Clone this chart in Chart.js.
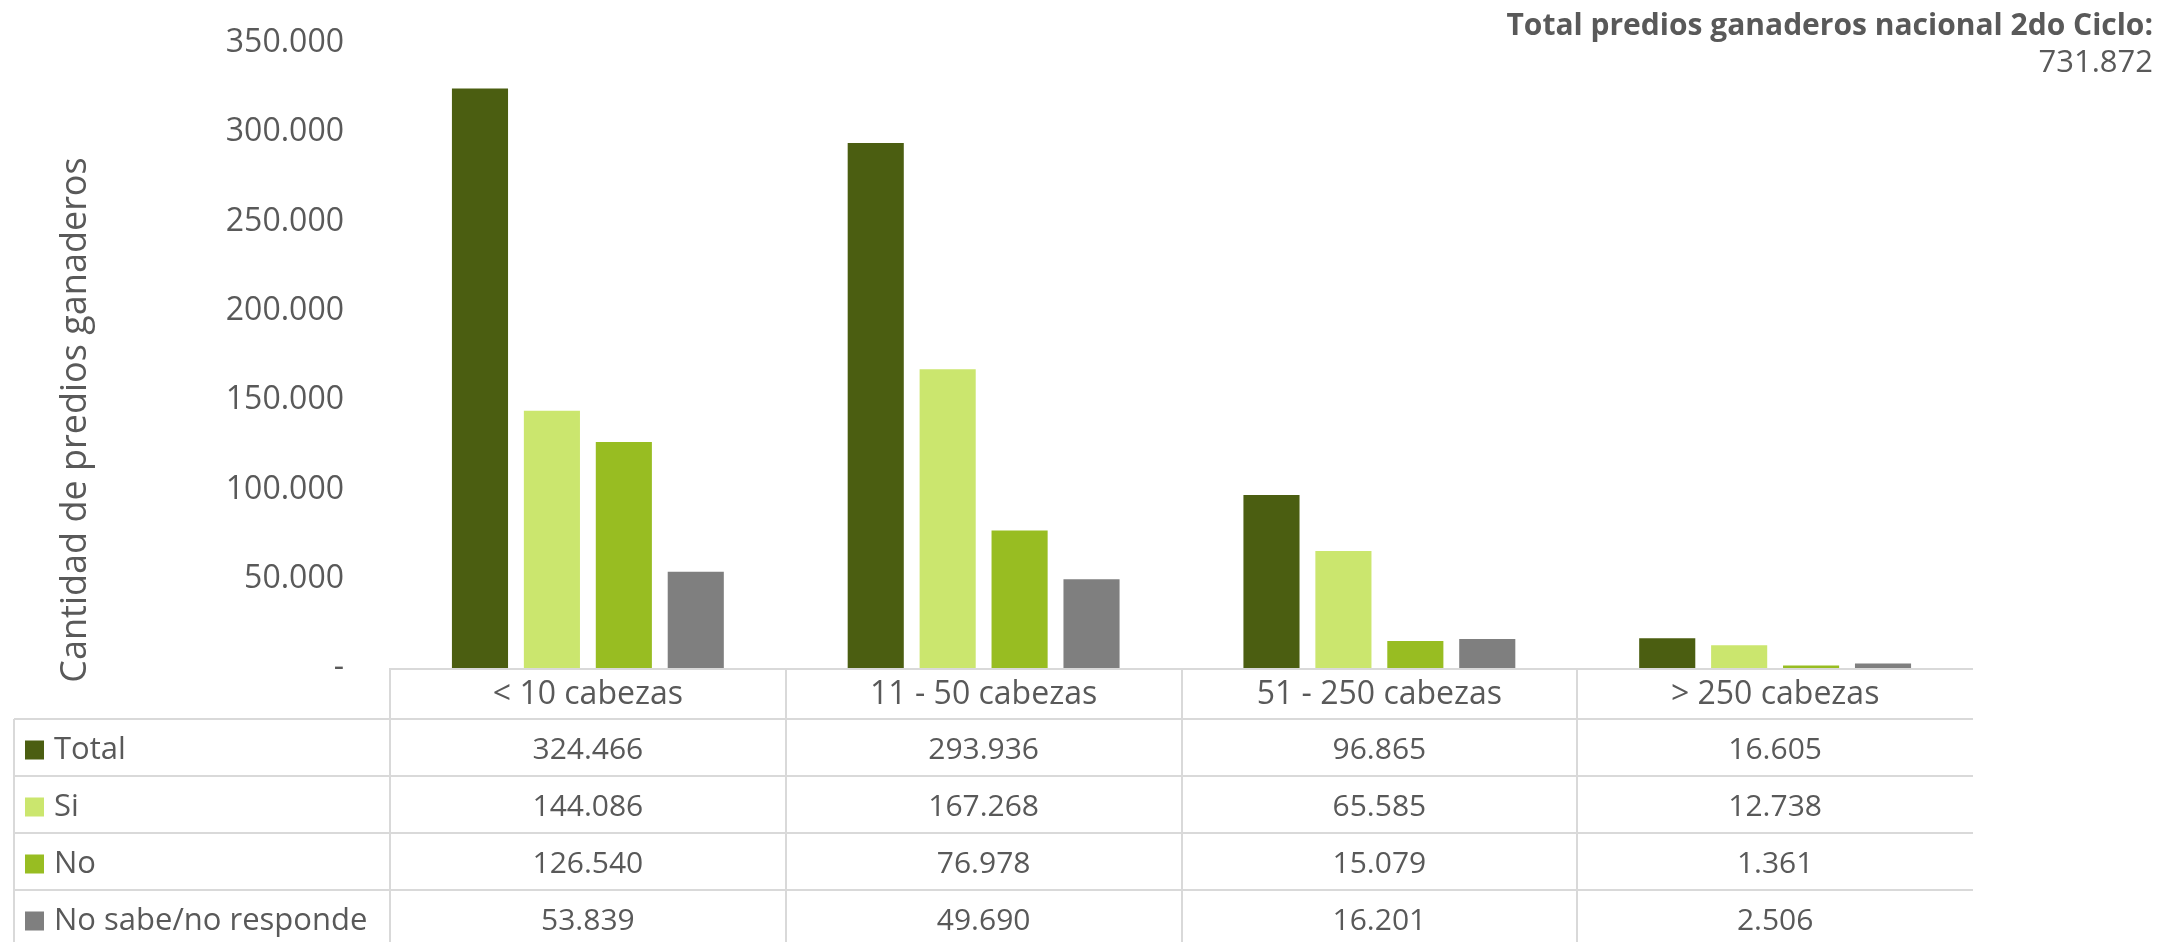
<!DOCTYPE html>
<html>
<head>
<meta charset="utf-8">
<script src="https://cdn.jsdelivr.net/npm/chart.js@4.4.1/dist/chart.umd.min.js"></script>
<style>
  html, body { margin: 0; padding: 0; background: #ffffff; }
  #wrap { position: relative; width: 2160px; height: 942px; }
</style>
</head>
<body>
<div id="wrap"><canvas id="c" width="2160" height="942"></canvas></div>
<script>
const categories = ['< 10 cabezas', '11 - 50 cabezas', '51 - 250 cabezas', '> 250 cabezas'];
const seriesNames = ['Total', 'Si', 'No', 'No sabe/no responde'];
const totalValues = [324466, 293936, 96865, 16605];
const siValues = [144086, 167268, 65585, 12738];
const noValues = [126540, 76978, 15079, 1361];
const nsnrValues = [53839, 49690, 16201, 2506];
const seriesColors = ['#4B5E11', '#CBE66E', '#98BD22', '#7F7F7F'];
const yTickValues = [0, 50000, 100000, 150000, 200000, 250000, 300000, 350000];
const yAxisTitle = 'Cantidad de predios ganaderos';
const noteTitle = 'Total predios ganaderos nacional 2do Ciclo:';
const noteValue = '731.872';

const FONT = "'Open Sans', 'Noto Sans', sans-serif";
const TEXT = '#595959';
const GRID = '#D9D9D9';

function fmt(v) {
  if (v === 0) return '-';
  return String(v).replace(/\B(?=(\d{3})+(?!\d))/g, '.');
}

const allSeries = [totalValues, siValues, noValues, nsnrValues];

const tablePlugin = {
  id: 'dataTable',
  afterDraw(chart) {
    const ctx = chart.ctx;
    const x = chart.scales.x;
    const area = chart.chartArea;
    const n = categories.length;
    const catW = (area.right - area.left) / n;
    const top = area.bottom;
    const headerBottom = top + 51;
    const rowH = 57;
    const tableLeft = 14;
    const bottom = 942;
    ctx.save();
    ctx.strokeStyle = GRID;
    ctx.lineWidth = 2;
    ctx.beginPath();
    ctx.moveTo(area.left, top + 1);
    ctx.lineTo(area.right, top + 1);
    ctx.stroke();
    for (let i = 0; i < n; i++) {
      const lx = Math.round(area.left + i * catW);
      ctx.beginPath();
      ctx.moveTo(lx, top);
      ctx.lineTo(lx, bottom);
      ctx.stroke();
    }
    ctx.beginPath();
    ctx.moveTo(tableLeft, headerBottom);
    ctx.lineTo(tableLeft, bottom);
    ctx.stroke();
    for (let r = 0; r < seriesNames.length; r++) {
      const ly = Math.round(headerBottom + r * rowH);
      ctx.beginPath();
      ctx.moveTo(tableLeft, ly);
      ctx.lineTo(area.right, ly);
      ctx.stroke();
    }
    ctx.fillStyle = TEXT;
    ctx.textAlign = 'center';
    ctx.textBaseline = 'middle';
    ctx.font = '32px ' + FONT;
    for (let i = 0; i < n; i++) {
      const cx = x.getPixelForValue(i);
      ctx.fillText(categories[i], cx, (top + headerBottom) / 2 + 1);
    }
    for (let r = 0; r < seriesNames.length; r++) {
      const cy = headerBottom + r * rowH + rowH / 2 + 3;
      ctx.fillStyle = seriesColors[r];
      ctx.fillRect(tableLeft + 11, cy - 10, 19, 19);
      ctx.fillStyle = TEXT;
      ctx.textAlign = 'left';
      ctx.font = '31px ' + FONT;
      ctx.fillText(seriesNames[r], tableLeft + 40, cy);
      ctx.textAlign = 'center';
      ctx.font = '30px ' + FONT;
      for (let i = 0; i < n; i++) {
        ctx.fillText(fmt(allSeries[r][i]), x.getPixelForValue(i), cy);
      }
    }
    ctx.save();
    ctx.translate(76, 420);
    ctx.rotate(-Math.PI / 2);
    ctx.textAlign = 'center';
    ctx.textBaseline = 'middle';
    ctx.font = '36px ' + FONT;
    ctx.fillStyle = TEXT;
    ctx.fillText(yAxisTitle, 0, 0);
    ctx.restore();
    ctx.textAlign = 'right';
    ctx.textBaseline = 'middle';
    ctx.font = 'bold 30px ' + FONT;
    ctx.fillStyle = TEXT;
    ctx.fillText(noteTitle, 2153, 26);
    ctx.font = '31px ' + FONT;
    ctx.fillText(noteValue, 2153, 63);
    ctx.restore();
  }
};

new Chart(document.getElementById('c'), {
  type: 'bar',
  data: {
    labels: categories,
    datasets: seriesNames.map((name, i) => ({
      label: name,
      data: allSeries[i],
      backgroundColor: seriesColors[i],
      borderWidth: 0,
      barPercentage: 0.78,
      categoryPercentage: 0.727
    }))
  },
  options: {
    responsive: false,
    animation: false,
    devicePixelRatio: 1,
    layout: { padding: { top: 43, right: 187, bottom: 274, left: 0 } },
    plugins: {
      legend: { display: false },
      tooltip: { enabled: false },
      title: { display: false }
    },
    scales: {
      x: { display: false },
      y: {
        min: 0,
        max: 350000,
        afterBuildTicks(scale) { scale.ticks = yTickValues.map(v => ({ value: v })); },
        afterFit(scale) { scale.width = 390; },
        grid: { display: false, drawTicks: true, tickLength: 46 },
        border: { display: false },
        ticks: {
          padding: 0,
          color: TEXT,
          font: { family: FONT, size: 32 },
          callback: (v) => fmt(v)
        }
      }
    }
  },
  plugins: [tablePlugin]
});
</script>
</body>
</html>
